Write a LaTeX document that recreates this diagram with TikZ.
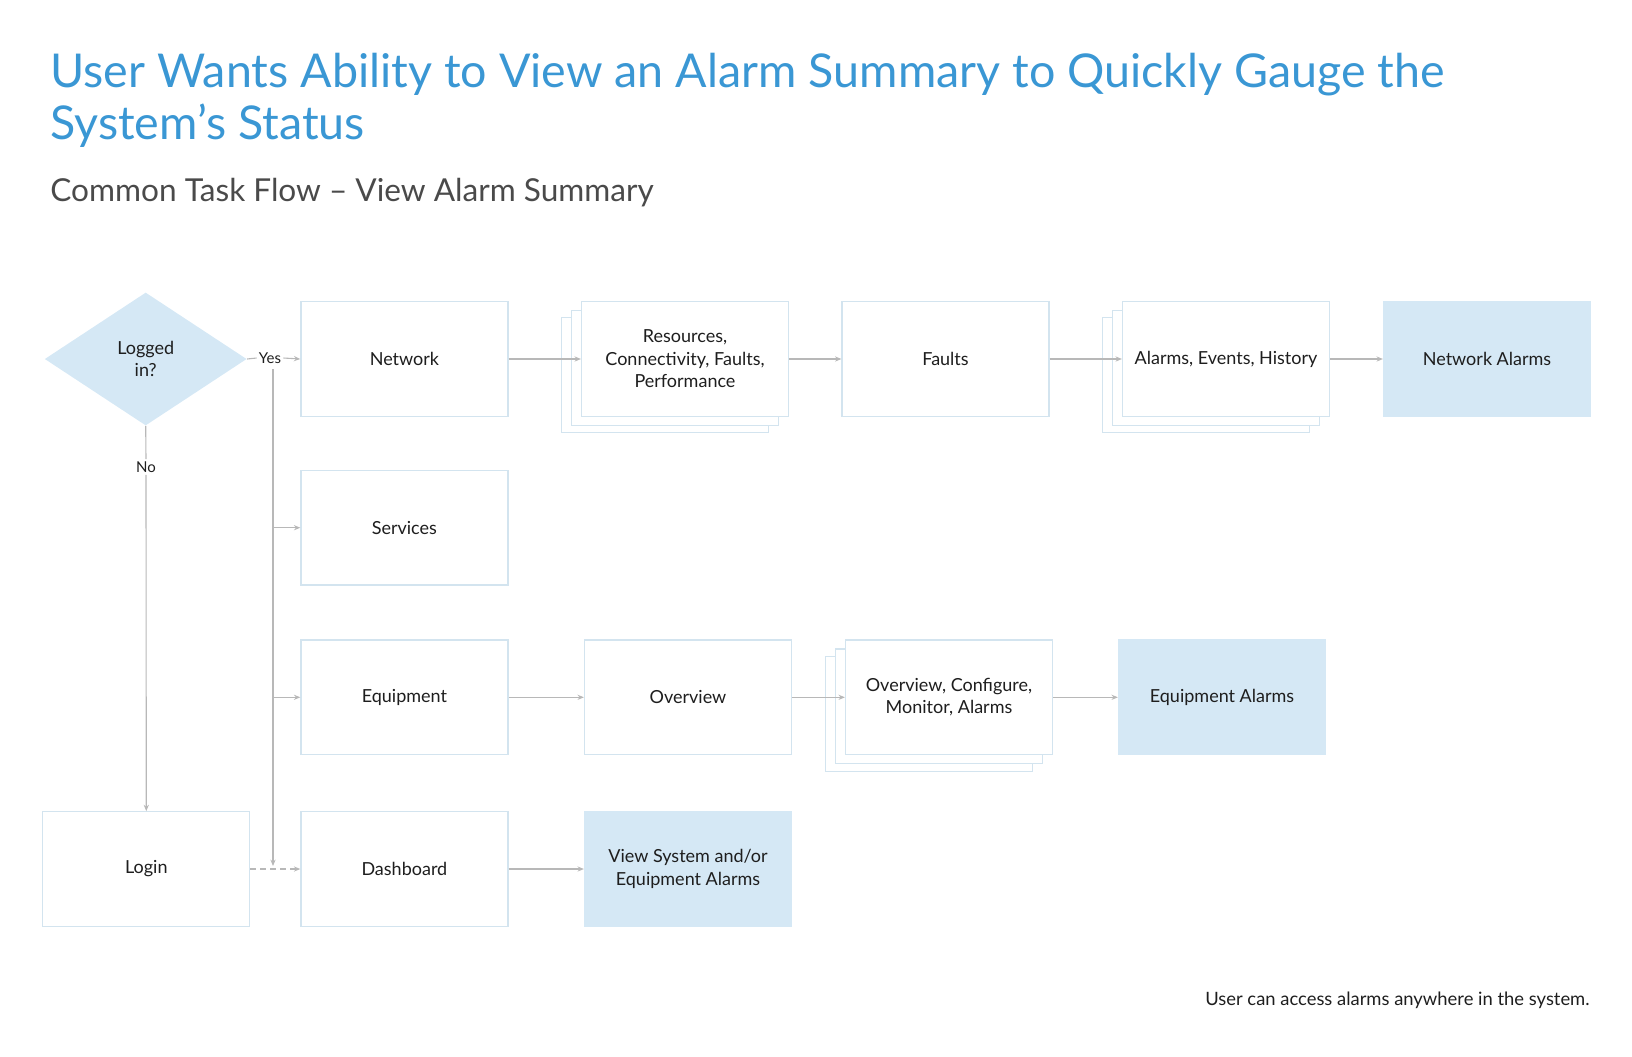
\documentclass[tikz,border=0pt]{standalone}
\usepackage{fontspec}
\setmainfont{Lato}
\usetikzlibrary{shapes.geometric,arrows.meta}
\definecolor{titleblue}{HTML}{3A97D4}
\definecolor{subgray}{HTML}{4A4A4A}
\definecolor{txtcol}{HTML}{1E1E1E}
\definecolor{bordcol}{HTML}{D3E4EF}
\definecolor{hlcol}{HTML}{D5E8F5}
\definecolor{conncol}{HTML}{B8B8B8}
\begin{document}
\begin{tikzpicture}[x=0.5pt,y=-0.5pt,
 box/.style={draw=bordcol,line width=0.6pt,fill=white,minimum width=103.5pt,minimum height=57.25pt,inner sep=0pt,align=center,font=\fontsize{9pt}{11.2pt}\selectfont,text=txtcol},
 hlbox/.style={box,fill=hlcol,draw=hlcol},
 cline/.style={draw=conncol,line width=0.55pt},
 arr/.style={cline,-{Stealth[length=3.2pt,width=2.6pt]}},
 lbl/.style={font=\fontsize{7.5pt}{9pt}\selectfont,text=txtcol,inner sep=1pt}
]
\useasboundingbox (0,0) rectangle (1632,1056);

% titles
\node[anchor=base west,inner sep=0,text=titleblue,align=left,font=\fontsize{23.3pt}{26pt}\selectfont] (title) at (50,139.5)
 {User Wants Ability to View an Alarm Summary to Quickly Gauge the\\System’s Status};
\node[anchor=base west,inner sep=0,text=subgray,font=\fontsize{15.8pt}{18pt}\selectfont] (sub) at (50,201)
 {Common Task Flow – View Alarm Summary};
\node[anchor=base east,inner sep=0,text=txtcol,font=\fontsize{9.2pt}{11pt}\selectfont] (foot) at (1590,1005.5)
 {User can access alarms anywhere in the system.};

% decision
\node[diamond,fill=hlcol,minimum width=101pt,minimum height=66.5pt,inner sep=0pt,align=center,
 font=\fontsize{9pt}{11.2pt}\selectfont,text=txtcol] (d) at (145.7,359) {Logged\\in?};

% column 1 boxes
\node[box] (net) at (404.4,359) {Network};
\node[box] (serv) at (404.4,527.7) {Services};
\node[box] (equip) at (404.4,697.3) {Equipment};
\node[box] (dash) at (404.4,869) {Dashboard};
\node[box] (login) at (146.3,869) {Login};

% network row
\node[box] (res3) at (665,375) {};
\node[box] (res2) at (675,368) {};
\node[box] (res) at (685,359) {Resources,\\Connectivity, Faults,\\Performance};
\node[box] (faults) at (945.5,359) {Faults};
\node[box] (alm3) at (1206,375) {};
\node[box] (alm2) at (1216,368) {};
\node[box] (alm) at (1226,359) {Alarms, Events, History};
\node[hlbox] (netalm) at (1487,359) {Network Alarms};

% equipment row
\node[box] (ov) at (688,697.3) {Overview};
\node[box] (ocm3) at (929,714) {};
\node[box] (ocm2) at (939,706.3) {};
\node[box] (ocm) at (949,697.3) {Overview, Configure,\\Monitor, Alarms};
\node[hlbox] (eqalm) at (1222,697.3) {Equipment Alarms};

% dashboard row
\node[hlbox] (vsys) at (688,869) {View System and/or\\Equipment Alarms};

% labels
\node[lbl] (yes) at (270,358) {Yes};
\node[lbl,fill=white] (no) at (146,467) {No};

\coordinate (vt) at (273,369);
\coordinate (vb) at (273,866);

% connectors
\draw[cline] (d.east) -- (yes.west);
\draw[arr] (yes.east) -- (net.west);
\draw[arr] (vt) -- (vb);
\draw[arr] (vt |- serv.west) -- (serv.west);
\draw[arr] (vt |- equip.west) -- (equip.west);
\draw[cline] (d.south) -- (no.north);
\draw[arr] (no.south) -- (login.north);
\draw[arr,dash pattern=on 3pt off 2pt] (login.east) -- (dash.west);

\draw[arr] (net.east) -- (res.west);
\draw[arr] (res.east) -- (faults.west);
\draw[arr] (faults.east) -- (alm.west);
\draw[arr] (alm.east) -- (netalm.west);

\draw[arr] (equip.east) -- (ov.west);
\draw[arr] (ov.east) -- (ocm.west);
\draw[arr] (ocm.east) -- (eqalm.west);

\draw[arr] (dash.east) -- (vsys.west);
\end{tikzpicture}
\end{document}
